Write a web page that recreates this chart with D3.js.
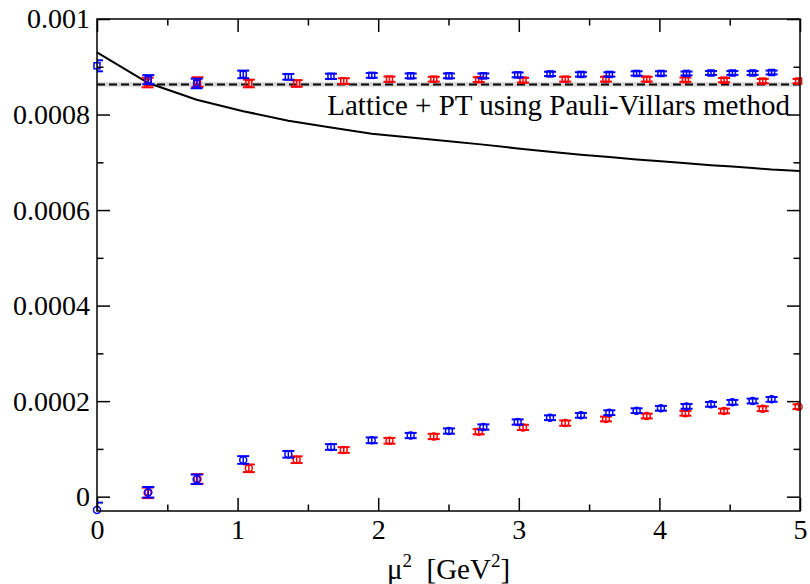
<!DOCTYPE html>
<html>
<head>
<meta charset="utf-8">
<script src="https://cdn.jsdelivr.net/npm/d3@7"></script>
<style>
  body { margin: 0; background: #fff; }
  svg text { font-family: 'Liberation Serif', 'Times New Roman', serif; }
</style>
</head>
<body>
<svg id="chart" width="810" height="584"></svg>
<script>
// x positions (mu^2 in GeV^2) for the blue and red lattice sets
var blueX = [0, 0.365, 0.709, 1.04, 1.361, 1.664, 1.954, 2.231, 2.503, 2.748, 2.992,
             3.222, 3.442, 3.644, 3.838, 4.011, 4.193, 4.367, 4.519, 4.663, 4.798];
var redX = [0.36, 0.715, 1.08, 1.42, 1.755, 2.08, 2.395, 2.715, 3.03, 3.33, 3.62,
            3.91, 4.185, 4.46, 4.735, 4.99];

// upper series (squares)
var blueUpper = [0.000902, 0.000873, 0.000865, 0.000884, 0.000879, 0.000880, 0.000882,
                 0.000881, 0.000881, 0.000881, 0.000883, 0.000885, 0.000884, 0.000884,
                 0.000886, 0.000886, 0.000886, 0.000887, 0.000887, 0.000887, 0.000888];
var blueUpperErr = [0.0000115, 0.0000095, 0.00001, 0.000008, 0.000006, 0.0000055, 0.000005,
                    0.000005, 0.000005, 0.000005, 0.000005, 0.0000045, 0.0000045, 0.0000045,
                    0.0000045, 0.0000045, 0.000004, 0.000004, 0.000004, 0.000004, 0.000004];
var redUpper = [0.000867, 0.000868, 0.000865, 0.000865, 0.000870, 0.000874, 0.000874,
                0.000873, 0.000872, 0.000874, 0.000874, 0.000874, 0.000873, 0.000872,
                0.000870, 0.000870];
var redUpperErr = [0.00001, 0.00001, 0.000008, 0.000007, 0.000006, 0.0000055, 0.000005,
                   0.000005, 0.000005, 0.000005, 0.000005, 0.000005, 0.0000045, 0.0000045,
                   0.0000045, 0.0000045];

// lower series (circles)
var blueLower = [-0.000028, 0.0000092, 0.0000364, 0.0000768, 0.0000887, 0.000104, 0.000118,
                 0.000128, 0.0001374, 0.0001458, 0.0001563, 0.0001653, 0.0001703, 0.0001758,
                 0.00018, 0.000185, 0.000189, 0.0001933, 0.0001975, 0.0002002, 0.0002037];
var blueLowerErr = [0.0000155, 0.000011, 0.00001, 0.000008, 0.000007, 0.000006, 0.000006,
                    0.0000055, 0.0000055, 0.0000055, 0.0000055, 0.000005, 0.000005, 0.000005,
                    0.000005, 0.000005, 0.000005, 0.000005, 0.000005, 0.000005, 0.000005];
var redLower = [0.000008, 0.000037, 0.0000594, 0.0000774, 0.0000977, 0.000117, 0.000126,
                0.000136, 0.000145, 0.000154, 0.0001626, 0.0001688, 0.0001745, 0.0001793,
                0.0001841, 0.0001883];
var redLowerErr = [0.000011, 0.00001, 0.000008, 0.000007, 0.000006, 0.000006, 0.0000055,
                   0.0000055, 0.0000055, 0.0000055, 0.000005, 0.000005, 0.000005, 0.000005,
                   0.000005, 0.000005];

// perturbative curve
var curveX = [0, 0.365, 0.709, 1.04, 1.361, 1.664, 1.954, 2.231, 2.503, 2.748, 2.992,
              3.222, 3.442, 3.644, 3.838, 4.011, 4.193, 4.367, 4.519, 4.663, 4.798, 5.0];
var curveY = [0.00093, 0.000866, 0.000831, 0.000807, 0.000787, 0.000773, 0.00076,
              0.000752, 0.000744, 0.000737, 0.000729, 0.000722, 0.000716, 0.000711,
              0.000706, 0.000702, 0.000698, 0.000694, 0.000691, 0.000688, 0.000685, 0.000682];

// Pauli-Villars reference value and its band
var pvValue = 0.000863;
var pvErr = 0.000005;
var pvLabel = 'Lattice + PT using Pauli-Villars method';

var xTicks = [0, 1, 2, 3, 4, 5];
var xMinorTicks = [0.5, 1.5, 2.5, 3.5, 4.5];
var yTicks = [0, 0.0002, 0.0004, 0.0006, 0.0008, 0.001];
var yTickLabels = ['0', '0.0002', '0.0004', '0.0006', '0.0008', '0.001'];
var yMinorTicks = [0.0001, 0.0003, 0.0005, 0.0007, 0.0009];

/*
** Layout
 */
var plotLeft = 97, plotRight = 800, plotTop = 19, plotBottom = 511;
var fontSize = 29;
var tickFontSize = 28;
var serif = "'Liberation Serif', 'Times New Roman', serif";
var svg = d3.select('#chart');

var x = d3.scaleLinear().domain([0, 5]).range([plotLeft, plotRight]);
var y = d3.scaleLinear().domain([-0.00003, 0.001]).range([plotBottom, plotTop]);

svg.append('defs').append('clipPath')
    .attr('id', 'plotClip')
    .append('rect')
    .attr('x', plotLeft).attr('y', plotTop)
    .attr('width', plotRight - plotLeft).attr('height', plotBottom - plotTop);

// grey band + dashed line
svg.append('rect')
    .attr('x', plotLeft)
    .attr('y', y(pvValue + pvErr))
    .attr('width', plotRight - plotLeft)
    .attr('height', y(pvValue - pvErr) - y(pvValue + pvErr))
    .attr('fill', '#d9d9d9');

svg.append('line')
    .attr('x1', plotLeft).attr('x2', plotRight)
    .attr('y1', y(pvValue)).attr('y2', y(pvValue))
    .attr('stroke', 'black')
    .attr('stroke-width', 2)
    .attr('stroke-dasharray', '8,4');

// curve
var line = d3.line()
    .x(function (d) { return x(d[0]); })
    .y(function (d) { return y(d[1]); });

svg.append('path')
    .datum(d3.zip(curveX, curveY))
    .attr('d', line)
    .attr('fill', 'none')
    .attr('stroke', 'black')
    .attr('stroke-width', 2);

function drawSeries(xs, vals, errs, color, shape) {
    var data = d3.zip(xs, vals, errs);
    var g = svg.append('g');
    var eb = g.append('g').attr('clip-path', 'url(#plotClip)')
        .attr('stroke', color);
    eb.selectAll('line.bar').data(data).enter().append('line')
        .attr('x1', function (d) { return x(d[0]); })
        .attr('x2', function (d) { return x(d[0]); })
        .attr('y1', function (d) { return y(d[1] + d[2]); })
        .attr('y2', function (d) { return y(d[1] - d[2]); })
        .attr('stroke-width', 1.5);
    [1, -1].forEach(function (s) {
        eb.selectAll(null).data(data).enter().append('line')
            .attr('x1', function (d) { return x(d[0]) - 6; })
            .attr('x2', function (d) { return x(d[0]) + 6; })
            .attr('y1', function (d) { return y(d[1] + s * d[2]); })
            .attr('y2', function (d) { return y(d[1] + s * d[2]); })
            .attr('stroke-width', 2);
    });
    if (shape == 'square') {
        g.selectAll('rect').data(data).enter().append('rect')
            .attr('x', function (d) { return x(d[0]) - 3; })
            .attr('y', function (d) { return y(d[1]) - 3; })
            .attr('width', 6).attr('height', 6)
            .attr('fill', 'none').attr('stroke', color).attr('stroke-width', 1.5);
    } else {
        g.selectAll('circle').data(data).enter().append('circle')
            .attr('cx', function (d) { return x(d[0]); })
            .attr('cy', function (d) { return y(d[1]); })
            .attr('r', 3.5)
            .attr('fill', 'none').attr('stroke', color).attr('stroke-width', 1.5);
    }
}

drawSeries(redX, redUpper, redUpperErr, '#ff0000', 'square');
drawSeries(blueX, blueUpper, blueUpperErr, '#0000ff', 'square');
drawSeries(redX, redLower, redLowerErr, '#ff0000', 'circle');
drawSeries(blueX, blueLower, blueLowerErr, '#0000ff', 'circle');

// label
svg.append('text')
    .attr('x', 790).attr('y', 115)
    .attr('text-anchor', 'end')
    .style('font-family', serif)
    .attr('font-size', fontSize)
    .text(pvLabel);

/*
** Axes (ticks point inward on all four sides)
 */
function styleAxis(g) {
    g.select('.domain').remove();
    g.attr('font-family', null).attr('font-size', null);
    g.selectAll('.tick line').attr('stroke', 'black').attr('stroke-width', 1.5);
    g.selectAll('.tick text').attr('fill', 'black')
        .style('font-family', serif)
        .style('font-size', tickFontSize + 'px');
}

svg.append('g').attr('transform', 'translate(0,' + plotBottom + ')')
    .call(d3.axisBottom(x).tickValues(xTicks).tickSize(-13).tickPadding(8).tickFormat(d3.format('d')))
    .call(styleAxis);
svg.append('g').attr('transform', 'translate(0,' + plotBottom + ')')
    .call(d3.axisBottom(x).tickValues(xMinorTicks).tickSize(-6.5).tickFormat(''))
    .call(styleAxis);
svg.append('g').attr('transform', 'translate(0,' + plotTop + ')')
    .call(d3.axisTop(x).tickValues(xTicks).tickSize(-13).tickFormat(''))
    .call(styleAxis);
svg.append('g').attr('transform', 'translate(0,' + plotTop + ')')
    .call(d3.axisTop(x).tickValues(xMinorTicks).tickSize(-6.5).tickFormat(''))
    .call(styleAxis);

svg.append('g').attr('transform', 'translate(' + plotLeft + ',0)')
    .call(d3.axisLeft(y).tickValues(yTicks).tickSize(-13).tickPadding(7)
        .tickFormat(function (d, i) { return yTickLabels[i]; }))
    .call(styleAxis);
svg.append('g').attr('transform', 'translate(' + plotLeft + ',0)')
    .call(d3.axisLeft(y).tickValues(yMinorTicks).tickSize(-6.5).tickFormat(''))
    .call(styleAxis);
svg.append('g').attr('transform', 'translate(' + plotRight + ',0)')
    .call(d3.axisRight(y).tickValues(yTicks).tickSize(-13).tickFormat(''))
    .call(styleAxis);
svg.append('g').attr('transform', 'translate(' + plotRight + ',0)')
    .call(d3.axisRight(y).tickValues(yMinorTicks).tickSize(-6.5).tickFormat(''))
    .call(styleAxis);

// frame
svg.append('rect')
    .attr('x', plotLeft).attr('y', plotTop)
    .attr('width', plotRight - plotLeft).attr('height', plotBottom - plotTop)
    .attr('fill', 'none').attr('stroke', 'black').attr('stroke-width', 1.5);

// x title: mu^2  [GeV^2]
var title = svg.append('text')
    .attr('x', (plotLeft + plotRight) / 2).attr('y', 579)
    .attr('text-anchor', 'middle')
    .style('font-family', serif)
    .attr('font-size', fontSize);
title.append('tspan').text('\u03bc');
title.append('tspan').attr('font-size', 19).attr('dy', -12).text('2');
title.append('tspan').attr('dy', 12).text('\u00a0\u00a0[GeV');
title.append('tspan').attr('font-size', 19).attr('dy', -12).text('2');
title.append('tspan').attr('dy', 12).text(']');
</script>
</body>
</html>
